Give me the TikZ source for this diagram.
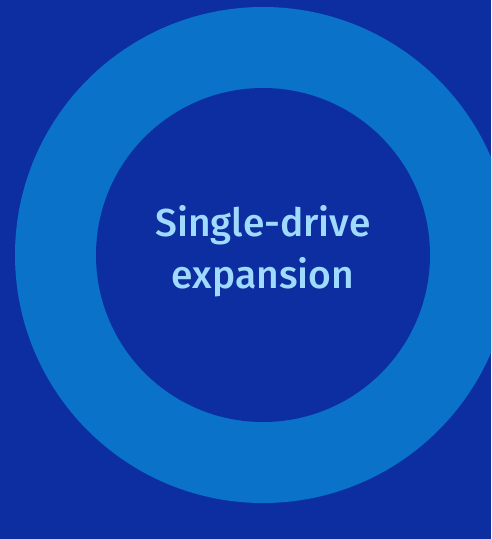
\documentclass[tikz,border=0pt]{standalone}
\usepackage{fontspec}
\newfontfamily\labelfont{Fira Sans Medium}
\definecolor{bgblue}{HTML}{0D2EA0}
\definecolor{ringblue}{HTML}{0A72C8}
\definecolor{textblue}{HTML}{A0DAFF}
\tikzset{label text/.style={text=textblue, align=center, font=\labelfont\fontsize{39}{52}\selectfont}}
\begin{document}
\begin{tikzpicture}[x=1pt, y=1pt]

\fill[bgblue] (0, 0) rectangle (491, -539);
\clip (0, 0) rectangle (491, -539);

\fill[ringblue] (263, -255) circle (248);
\fill[bgblue] (263, -255) circle (167);

\node[label text] (title) at (263, -251) {Single-drive\\expansion};

\end{tikzpicture}
\end{document}
